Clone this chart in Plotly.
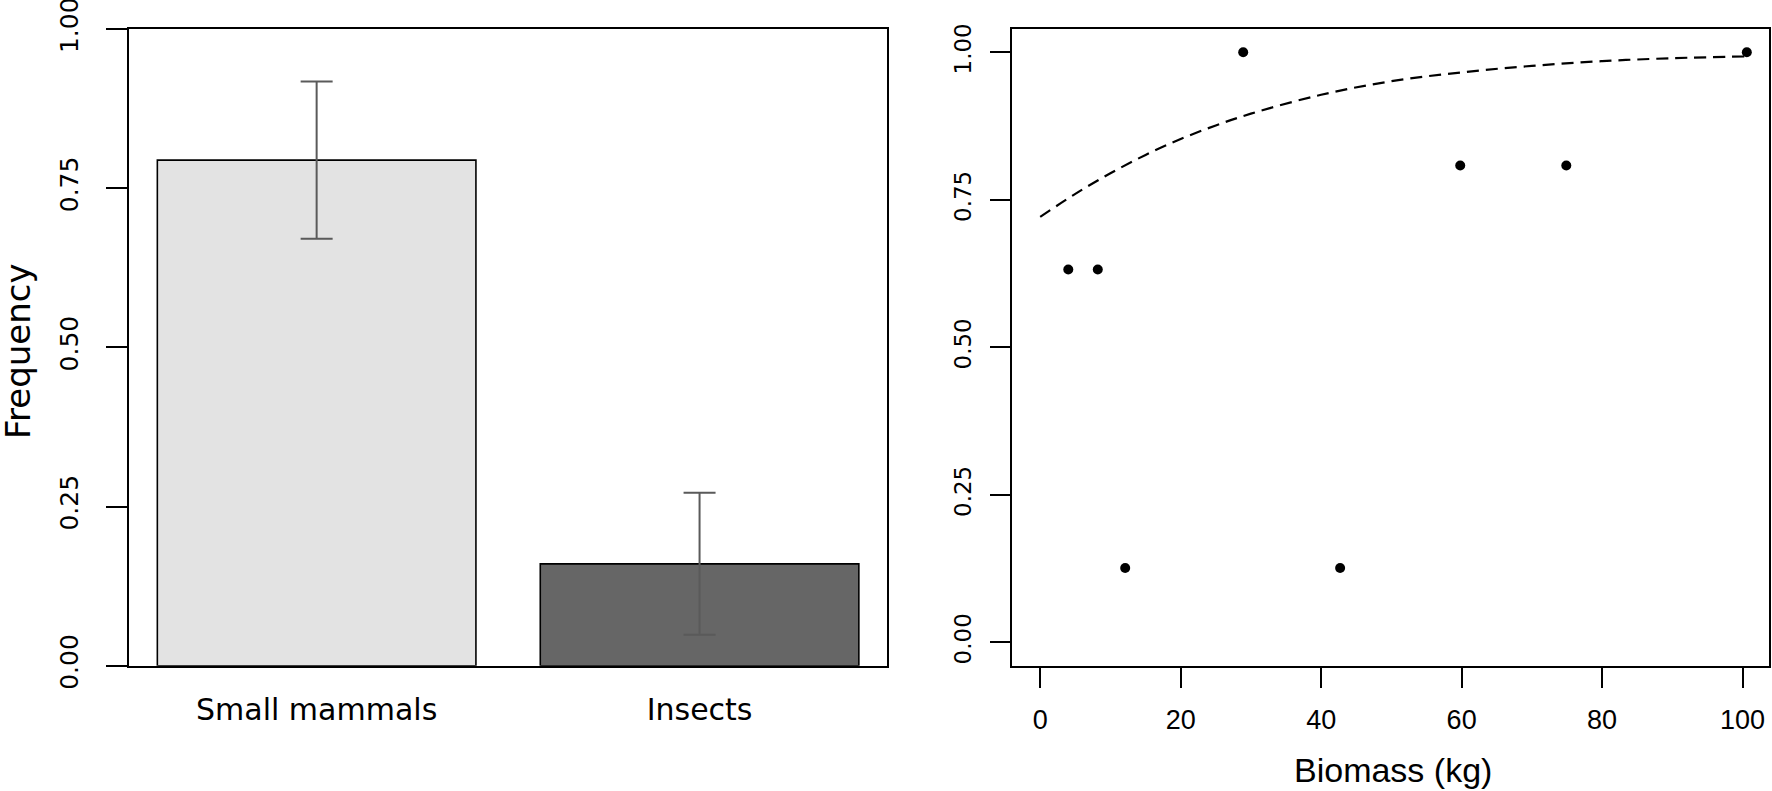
import plotly.graph_objects as go

# ---- data ----
categories = ["Small mammals", "Insects"]
freq_values = [0.794, 0.160]
freq_err = [0.1235, 0.1115]
bar_colors = ["#e3e3e3", "#666666"]

biomass_x = [4.0, 8.2, 12.1, 28.9, 42.7, 59.8, 74.9, 100.6]
biomass_y = [0.632, 0.632, 0.126, 1.0, 0.126, 0.808, 0.808, 1.0]

curve_x = [0, 5, 10, 15, 20, 25, 30, 40, 50, 60, 70, 80, 90, 100.6]
curve_y = [0.721, 0.760, 0.795, 0.826, 0.853, 0.876, 0.896, 0.928, 0.951,
           0.966, 0.977, 0.985, 0.990, 0.993]

y_ticks = [0, 0.25, 0.5, 0.75, 1.0]
x2_ticks = [0, 20, 40, 60, 80, 100]

W, H = 1772, 791

def px(x):
    return x / W

def py(y):
    return 1 - y / H

fig = go.Figure()

fig.add_trace(go.Bar(
    x=categories, y=freq_values,
    marker=dict(color=bar_colors, line=dict(color="black", width=1.6)),
    error_y=dict(type="data", array=freq_err, visible=True,
                 color="#5a5a5a", thickness=2, width=16),
    xaxis="x", yaxis="y", showlegend=False,
))

fig.add_trace(go.Scatter(
    x=curve_x, y=curve_y, mode="lines",
    line=dict(color="black", width=2.2, dash="12px,7px", shape="spline"),
    xaxis="x2", yaxis="y2", showlegend=False,
))

fig.add_trace(go.Scatter(
    x=biomass_x, y=biomass_y, mode="markers",
    marker=dict(color="black", size=10),
    xaxis="x2", yaxis="y2", showlegend=False,
))

left_font = "DejaVu Sans"
right_font = "Liberation Sans"

common_line = dict(showline=True, linecolor="black", linewidth=2, mirror=True,
                   showgrid=False, zeroline=False, automargin=False,
                   ticklabeloverflow="allow")

fig.update_layout(
    width=W, height=H,
    margin=dict(l=0, r=0, t=0, b=0, autoexpand=False),
    paper_bgcolor="white", plot_bgcolor="white",
    bargap=0.168,
    xaxis=dict(domain=[px(129.2), px(887)], range=[-0.4895, 1.4895],
               ticks="", tickfont=dict(family=left_font, size=30, color="black"),
               ticklabelstandoff=16, anchor="y", fixedrange=True, **common_line),
    yaxis=dict(domain=[py(665.7), py(29)], range=[0, 1],
               tickvals=y_ticks, tickformat=".2f", tickangle=-90,
               ticks="outside", ticklen=21, tickwidth=2, tickcolor="black",
               ticklabelstandoff=18,
               tickfont=dict(family=left_font, size=25, color="black"),
               anchor="x", **common_line),
    xaxis2=dict(domain=[px(1012.3), px(1769.3)], range=[-3.97, 103.8],
                tickvals=x2_ticks, ticks="outside", ticklen=20, tickwidth=2,
                tickcolor="black", ticklabelstandoff=9,
                tickfont=dict(family=right_font, size=27, color="black"),
                anchor="y2", **common_line),
    yaxis2=dict(domain=[py(666), py(29)], range=[-0.0402, 1.0395],
                tickvals=y_ticks, tickformat=".2f", tickangle=-90,
                ticks="outside", ticklen=20, tickwidth=2, tickcolor="black",
                ticklabelstandoff=10,
                tickfont=dict(family=left_font, size=23, color="black"),
                anchor="x2", **common_line),
    annotations=[
        dict(text="Frequency", x=px(18), y=py(351), xref="paper", yref="paper",
             textangle=-90, showarrow=False, xanchor="center", yanchor="middle",
             font=dict(family=left_font, size=34, color="black")),
        dict(text="Biomass (kg)", x=px(1393), y=py(770), xref="paper", yref="paper",
             showarrow=False, xanchor="center", yanchor="middle",
             font=dict(family=right_font, size=34, color="black")),
    ],
)

fig.write_html(
    "out.html",
    config={"displayModeBar": False},
    post_script="document.body.style.margin='0px';document.body.style.overflow='hidden';",
)
